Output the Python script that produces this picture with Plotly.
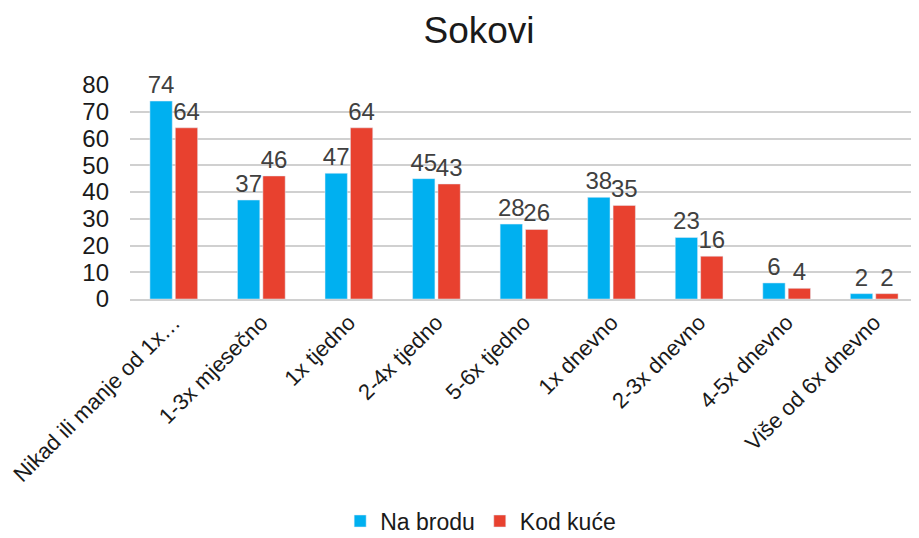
import plotly.graph_objects as go

categories = [
    "Nikad ili manje od 1x…", "1-3x mjesečno", "1x tjedno", "2-4x tjedno",
    "5-6x tjedno", "1x dnevno", "2-3x dnevno", "4-5x dnevno", "Više od 6x dnevno",
]
na_brodu = [74, 37, 47, 45, 28, 38, 23, 6, 2]
kod_kuce = [64, 46, 64, 43, 26, 35, 16, 4, 2]
y_ticks = [0, 10, 20, 30, 40, 50, 60, 70, 80]

BLUE = "#00b0f0"
RED = "#e8412f"
TXT = "#404040"
DARK = "#1a1a1a"
FONT = "Liberation Sans, Arial, sans-serif"

fig = go.Figure()
for name, vals, color in [("Na brodu", na_brodu, BLUE), ("Kod kuće", kod_kuce, RED)]:
    fig.add_trace(go.Bar(
        x=categories, y=vals, name=name, marker_color=color,
        text=[str(v) for v in vals], textposition="outside",
        textfont=dict(size=24, color=TXT, family=FONT),
        constraintext="none", cliponaxis=False,
    ))

# page body has an 8px margin, so the figure is sized/offset to compensate
fig.update_layout(
    width=911, height=530,
    margin=dict(l=122, r=1, t=77, b=239),
    paper_bgcolor="white", plot_bgcolor="white",
    font=dict(family=FONT, color=TXT),
    title=dict(text="Sokovi", x=0.517, xanchor="center", y=0.958, yanchor="middle",
               font=dict(size=37, color=DARK, family=FONT)),
    barmode="group", bargap=0.42, bargroupgap=0.12,
    showlegend=True,
    legend=dict(orientation="h", x=0.445, xanchor="center",
                yref="container", y=0.032, yanchor="middle",
                font=dict(size=23, color=DARK, family=FONT),
                itemwidth=30, traceorder="normal"),
)
fig.update_xaxes(
    tickangle=-45, tickfont=dict(size=22, color=DARK, family=FONT),
    showline=True, linecolor="#d0d0d0", linewidth=2, ticks="", automargin=False,
)
fig.update_yaxes(
    range=[0, 80], tickvals=y_ticks, showgrid=True, gridcolor="#d0d0d0", gridwidth=2,
    tickfont=dict(size=24, color=DARK, family=FONT), zeroline=False,
    ticklabelstandoff=20, automargin=False,
)

fig.write_html("out.html")
